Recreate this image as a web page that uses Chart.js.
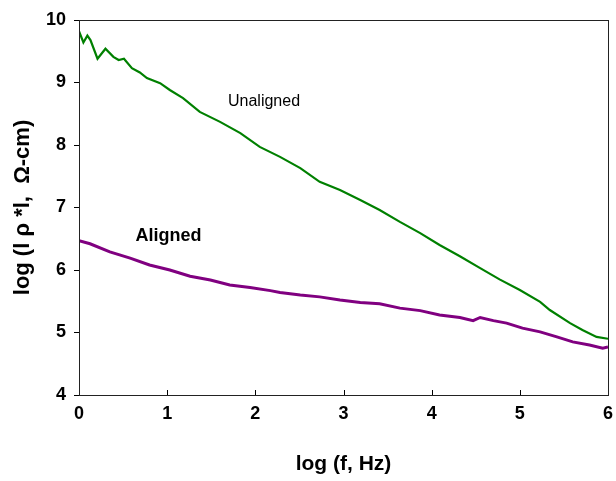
<!DOCTYPE html>
<html>
<head>
<meta charset="utf-8">
<script src="https://cdn.jsdelivr.net/npm/chart.js@4"></script>
<style>
  html, body { margin: 0; padding: 0; background: #fff; }
  #wrap { width: 616px; height: 481px; }
</style>
</head>
<body>
<div id="wrap"><canvas id="myChart"></canvas></div>
<script>
// values
var unalignedX = [0, 0.05, 0.095, 0.13, 0.21, 0.30, 0.39, 0.45, 0.51, 0.60, 0.69, 0.77, 0.92, 1.03, 1.18, 1.37, 1.60, 1.83, 2.05, 2.28, 2.51, 2.73, 2.96, 3.19, 3.41, 3.64, 3.87, 4.09, 4.32, 4.55, 4.77, 5.00, 5.23, 5.34, 5.57, 5.71, 5.87, 6.0];
var unalignedY = [9.82, 9.64, 9.75, 9.68, 9.38, 9.54, 9.41, 9.36, 9.38, 9.23, 9.16, 9.07, 8.99, 8.88, 8.75, 8.53, 8.37, 8.19, 7.97, 7.81, 7.63, 7.41, 7.28, 7.12, 6.96, 6.77, 6.59, 6.40, 6.22, 6.03, 5.85, 5.68, 5.49, 5.36, 5.15, 5.04, 4.93, 4.90];

var alignedX = [0, 0.125, 0.35, 0.58, 0.80, 1.03, 1.26, 1.49, 1.71, 1.94, 2.17, 2.28, 2.51, 2.73, 2.96, 3.19, 3.41, 3.64, 3.87, 4.09, 4.32, 4.47, 4.55, 4.70, 4.85, 5.03, 5.23, 5.42, 5.60, 5.79, 5.94, 6.0];
var alignedY = [6.47, 6.42, 6.29, 6.19, 6.08, 6.00, 5.90, 5.84, 5.76, 5.72, 5.67, 5.64, 5.60, 5.57, 5.52, 5.48, 5.46, 5.39, 5.35, 5.28, 5.24, 5.19, 5.24, 5.19, 5.15, 5.07, 5.01, 4.93, 4.85, 4.80, 4.75, 4.77];

var xTicks = [0, 1, 2, 3, 4, 5, 6];
var yTicks = [4, 5, 6, 7, 8, 9, 10];

// curve labels, placed in data coordinates
var curveLabels = [
    { text: 'Unaligned', x: 1.69, y: 8.69, bold: false, size: 16 },
    { text: 'Aligned',   x: 0.64, y: 6.54, bold: true,  size: 18 }
];

var FONT = '"Liberation Sans Narrow", "Liberation Sans", Arial, sans-serif';

function toPoints(xs, ys) {
    return xs.map((x, i) => ({ x: x, y: ys[i] }));
}

// frame, inward x ticks and the curve labels
var decorations = {
    id: 'decorations',
    afterDraw(chart) {
        var c = chart.ctx;
        var a = chart.chartArea;
        var xs = chart.scales.x;
        var ys = chart.scales.y;
        c.save();
        c.strokeStyle = '#000';
        c.lineWidth = 1;
        c.beginPath();
        xTicks.forEach(t => {
            var px = Math.round(xs.getPixelForValue(t)) + 0.5;
            c.moveTo(px, a.bottom);
            c.lineTo(px, a.bottom - 5);
        });
        c.stroke();

        c.strokeStyle = '#222';
        c.strokeRect(Math.round(a.left) + 0.5, Math.round(a.top) + 0.5,
            Math.round(a.right - a.left), Math.round(a.bottom - a.top));

        c.fillStyle = '#000';
        c.textBaseline = 'middle';
        c.textAlign = 'left';
        curveLabels.forEach(l => {
            c.font = (l.bold ? 'bold ' : '') + l.size + 'px "Liberation Sans", Arial, sans-serif';
            c.fillText(l.text, xs.getPixelForValue(l.x), ys.getPixelForValue(l.y));
        });
        c.restore();
    }
};

var ctx = document.getElementById('myChart').getContext('2d');

var chart = new Chart(ctx, {
    type: 'scatter',

    data: {
        datasets: [{
            label: 'Unaligned',
            data: toPoints(unalignedX, unalignedY),
            showLine: true,
            borderColor: '#008000',
            borderWidth: 2.2,
            pointRadius: 0,
            tension: 0
        }, {
            label: 'Aligned',
            data: toPoints(alignedX, alignedY),
            showLine: true,
            borderColor: '#800080',
            borderWidth: 3,
            pointRadius: 0,
            tension: 0
        }]
    },

    options: {
        responsive: true,
        maintainAspectRatio: false,
        animation: false,
        layout: { padding: { top: 20, right: 8, left: 0, bottom: 0 } },
        plugins: {
            legend: { display: false },
            tooltip: { enabled: false }
        },
        scales: {
            x: {
                type: 'linear',
                min: 0,
                max: 6,
                afterBuildTicks: s => { s.ticks = xTicks.map(v => ({ value: v })); },
                afterFit: s => { s.height = 86; s.paddingLeft = 0; s.paddingRight = 0; },
                grid: { display: true, drawOnChartArea: false, drawTicks: false },
                border: { display: false },
                ticks: {
                    color: '#000',
                    padding: 8,
                    font: { family: FONT, size: 18, weight: 'bold' }
                },
                title: {
                    display: true,
                    text: 'log (f, Hz)',
                    color: '#000',
                    padding: { top: 18 },
                    font: { family: FONT, size: 21, weight: 'bold' }
                }
            },
            y: {
                type: 'linear',
                min: 4,
                max: 10,
                afterBuildTicks: s => { s.ticks = yTicks.map(v => ({ value: v })); },
                afterFit: s => { s.width = 79; },
                grid: { display: true, drawOnChartArea: false, drawTicks: true, tickLength: 5, color: '#000' },
                border: { display: false },
                ticks: {
                    color: '#000',
                    padding: 8,
                    font: { family: FONT, size: 18, weight: 'bold' }
                },
                title: {
                    display: true,
                    text: 'log (l ρ *l,  Ω-cm)',
                    color: '#000',
                    padding: { top: 10, bottom: 4 },
                    font: { family: FONT, size: 22, weight: 'bold' }
                }
            }
        }
    },

    plugins: [decorations]
});
</script>
</body>
</html>
